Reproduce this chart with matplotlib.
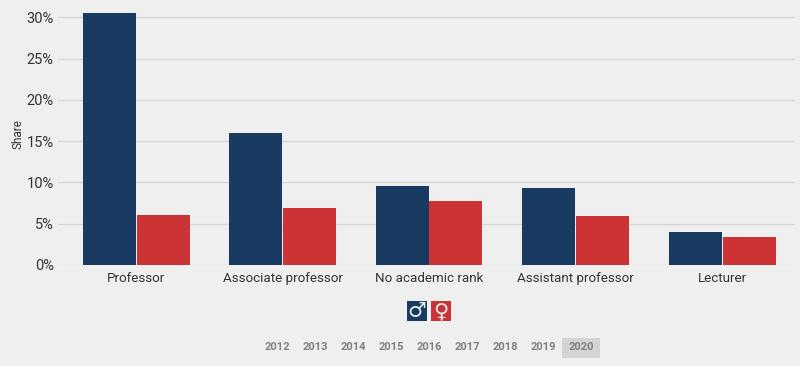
# -*- coding: utf-8 -*-
import matplotlib
matplotlib.use("Agg")
import matplotlib.pyplot as plt
from matplotlib.patches import Rectangle

categories = ["Professor", "Associate professor", "No academic rank", "Assistant professor", "Lecturer"]
male = [30.55, 15.95, 9.6, 9.35, 3.95]
female = [6.05, 6.9, 7.75, 5.95, 3.45]
yticks = [0, 5, 10, 15, 20, 25, 30]
years = ["2012", "2013", "2014", "2015", "2016", "2017", "2018", "2019", "2020"]

W, H = 800, 366
BG = "#efefef"
NAVY = "#193b61"
RED = "#cb3335"

plt.rcParams["font.family"] = ["Roboto", "DejaVu Sans"]

fig = plt.figure(figsize=(W / 100, H / 100), dpi=100, facecolor=BG)
# axes placed in pixels: x 58-795, 0% at y=265
base = 265
ax = fig.add_axes([58 / W, 1 - base / H, 737 / W, (base - 4) / H], facecolor=BG)
ax.set_ylim(0, (base - 4) / 8.257)

# one category = 146.5 px
px = 146.5
ax.set_xlim((58 - 136) / px, (795 - 136) / px)
bw = 53 / px
for i in range(len(categories)):
    ax.bar(i - 0.5 * bw - 0.5 / px, male[i], width=bw, color=NAVY, zorder=3)
    ax.bar(i + 0.5 * bw + 0.5 / px, female[i], width=bw, color=RED, zorder=3)

ax.set_yticks(yticks)
ax.set_yticklabels([f"{v}%" for v in yticks], fontsize=10.5, color="#333333")
ax.set_xticks(range(len(categories)))
ax.set_xticklabels(categories, fontsize=9.6, color="#333333")
ax.tick_params(length=0)
ax.tick_params(axis="y", pad=3)
ax.tick_params(axis="x", pad=5)
ax.grid(axis="y", color="#d6d6d6", linewidth=1, zorder=0)
for s in ax.spines.values():
    s.set_visible(False)
fig.text(17.5 / W, 1 - 134 / H, "Share", fontsize=8.5, color="#333333", rotation=90,
         ha="center", va="center")

# gender legend
def legend_box(x, color, symbol):
    fig.add_artist(Rectangle((x / W, 1 - 321 / H), 20 / W, 20 / H, transform=fig.transFigure,
                             facecolor=color, edgecolor="none"))
    fig.text((x + 10) / W, 1 - 311 / H, symbol, color="#e8eef2", fontsize=15,
             ha="center", va="center", family="DejaVu Sans")

legend_box(407, NAVY, "\u2642")
legend_box(430.5, RED, "\u2640")

# year selector
fig.add_artist(Rectangle((562 / W, 1 - 358 / H), 38 / W, 20 / H, transform=fig.transFigure,
                         facecolor="#d4d4d4", edgecolor="none"))
for i, y in enumerate(years):
    fig.text((277 + 38 * i) / W, 1 - 347.5 / H, y, fontsize=8, fontweight="bold",
             color="#7f7f7f", ha="center", va="center")

fig.savefig("out.png", dpi=100, facecolor=BG)
